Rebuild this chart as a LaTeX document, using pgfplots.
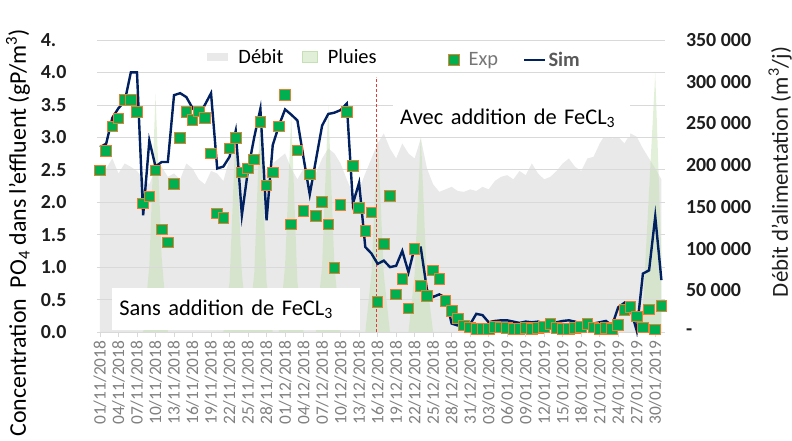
\documentclass[border=0pt]{standalone}
\usepackage{pgfplots}
\usepackage{pgfplotstable}
\pgfplotsset{compat=1.18}
\usepackage{fontspec}
\setmainfont{Carlito}
\definecolor{navy}{RGB}{0,32,96}
\definecolor{expgreen}{RGB}{0,176,80}
\definecolor{exporange}{RGB}{237,125,49}
\definecolor{debitgray}{RGB}{233,233,233}
\definecolor{pluiegreen}{RGB}{197,224,180}
\definecolor{gridgray}{RGB}{217,217,217}
\definecolor{labgray}{RGB}{128,128,128}
\definecolor{expgray}{RGB}{118,118,118}
\definecolor{simgray}{RGB}{89,89,89}
\definecolor{txt}{RGB}{30,30,30}
\definecolor{redline}{RGB}{225,60,60}

\pgfplotstableread{
d debit pluie exp sim
0 186000 0 2.49 2.85
1 196000 0 2.79 2.90
2 208000 0 3.17 3.30
3 190000 0 3.29 3.45
4 202000 0 3.58 3.55
5 198000 0 3.58 4.00
6 193000 0 3.39 4.00
7 183000 0 1.98 1.80
8 177000 80000 2.09 2.95
9 196000 285000 2.49 2.55
10 198000 90000 1.58 2.62
11 186000 0 1.38 2.62
12 190000 0 2.28 3.65
13 183000 0 2.99 3.68
14 202000 0 3.39 3.62
15 196000 0 3.27 3.45
16 183000 0 3.40 3.35
17 177000 0 3.30 3.50
18 193000 0 2.75 3.68
19 190000 0 1.83 2.52
20 181000 0 1.76 2.55
21 208000 60000 2.83 2.70
22 220000 245000 2.99 3.10
23 196000 70000 2.46 1.80
24 183000 0 2.52 2.50
25 202000 70000 2.66 3.00
26 220000 268000 3.24 3.44
27 190000 60000 2.26 1.72
28 202000 0 2.46 2.88
29 208000 0 3.17 3.18
30 214000 80000 3.65 3.43
31 196000 260000 1.66 3.35
32 183000 60000 2.80 3.26
33 196000 0 1.87 2.68
34 177000 0 2.43 2.12
35 190000 0 1.79 2.65
36 208000 80000 2.00 3.18
37 220000 272000 1.66 3.36
38 214000 80000 0.99 3.38
39 202000 0 1.96 3.42
40 183000 0 3.39 3.52
41 165000 0 2.56 1.98
42 171000 0 1.91 2.30
43 190000 0 1.56 1.31
44 208000 70000 1.84 1.21
45 226000 240000 0.46 1.05
46 238000 70000 1.36 1.10
47 220000 0 2.10 1.00
48 208000 0 0.58 1.02
49 226000 0 0.82 1.25
50 214000 0 0.36 0.92
51 208000 70000 1.28 1.30
52 232000 238000 0.71 1.30
53 196000 60000 0.56 0.65
54 177000 0 0.95 0.54
55 168000 0 0.82 0.58
56 171000 0 0.48 0.53
57 174000 0 0.32 0.13
58 169000 0 0.21 0.10
59 168000 0 0.10 0.10
60 171000 0 0.07 0.12
61 169000 0 0.05 0.28
62 174000 0 0.05 0.26
63 171000 0 0.05 0.15
64 181000 0 0.08 0.17
65 186000 0 0.07 0.18
66 188000 0 0.06 0.18
67 183000 0 0.05 0.16
68 193000 0 0.05 0.14
69 188000 0 0.06 0.16
70 202000 0 0.05 0.15
71 190000 0 0.06 0.16
72 183000 0 0.08 0.13
73 186000 0 0.12 0.12
74 193000 0 0.06 0.15
75 202000 0 0.05 0.17
76 208000 0 0.05 0.18
77 198000 0 0.06 0.16
78 193000 0 0.08 0.12
79 208000 0 0.12 0.14
80 210000 0 0.07 0.13
81 226000 0 0.05 0.15
82 238000 0 0.06 0.17
83 232000 0 0.05 0.10
84 234000 0 0.11 0.38
85 226000 0 0.34 0.45
86 238000 0 0.39 0.35
87 234000 0 0.24 0.02
88 220000 30000 0.07 0.90
89 208000 170000 0.35 0.95
90 196000 310000 0.04 1.78
91 183000 90000 0.40 0.80
}\datatable

\pgfplotsset{
  common/.style={
    at={(96.9bp,109bp)}, anchor=south west,
    width=567.6bp, height=292bp, scale only axis,
    xmin=-0.5, xmax=91.5,
  },
  simlegend/.style={legend image code/.code={\draw[##1] (0bp,0bp) -- (21bp,0bp);}},
  explegend/.style={legend image code/.code={\draw[##1] plot coordinates {(5.3bp,0bp)}; \path (0bp,0bp) (18bp,0bp);}},
}

\begin{document}
\begin{tikzpicture}
\path[use as bounding box] (0,0) rectangle (792bp,441bp);

% ---- right axis: Debit and Pluies
\begin{axis}[
  common,
  ymin=0, ymax=350000,
  axis x line=none, xtick=\empty,
  axis y line*=right,
  y axis line style={draw=none},
  ytick={0,50000,100000,150000,200000,250000,300000,350000},
  yticklabels={-,50 000,100 000,150 000,200 000,250 000,300 000,350 000},
  scaled y ticks=false,
  major tick length=0pt, ytick style={draw=none},
  yticklabel style={anchor=west, font=\fontsize{20}{24}\selectfont\bfseries, text=txt, xshift=18bp},
  ylabel={Débit d’alimentation (m\textsuperscript{3}/j)},
  every axis y label/.style={at={(axis description cs:1.2035,0.548)}, rotate=90, anchor=center, font=\fontsize{23}{27}\selectfont, text=txt},
]
\addplot[fill=debitgray, draw=none] table[x=d, y=debit] {\datatable} \closedcycle;
\addplot[fill=pluiegreen, fill opacity=0.5, draw=none] table[x=d, y=pluie] {\datatable} \closedcycle;
\end{axis}

% ---- left axis: concentration
\begin{axis}[
  common,
  ymin=0, ymax=4.5,
  axis x line*=bottom, axis y line*=left,
  y axis line style={draw=none},
  x axis line style={draw=gridgray, line width=0.75bp},
  xtick={0,3,...,90},
  xticklabels={01/11/2018,04/11/2018,07/11/2018,10/11/2018,13/11/2018,16/11/2018,19/11/2018,22/11/2018,25/11/2018,28/11/2018,01/12/2018,04/12/2018,07/12/2018,10/12/2018,13/12/2018,16/12/2018,19/12/2018,22/12/2018,25/12/2018,28/12/2018,31/12/2018,03/01/2019,06/01/2019,09/01/2019,12/01/2019,15/01/2019,18/01/2019,21/01/2019,24/01/2019,27/01/2019,30/01/2019},
  x tick label style={rotate=90, anchor=east, font=\fontsize{17.5}{19}\selectfont, text=labgray},
  xtick style={draw=gridgray, line width=0.75bp},
  tick align=outside,
  xtick pos=bottom,
  major tick length=5bp,
  ytick={0,0.5,1,1.5,2,2.5,3,3.5,4,4.5},
  yticklabels={0.0,0.5,1.0,1.5,2.0,2.5,3.0,3.5,4.0,4.\phantom{5}},
  ytick style={draw=none},
  yticklabel style={font=\fontsize{20}{24}\selectfont\bfseries, text=txt, xshift=-22bp},
  ymajorgrids, grid style={gridgray, line width=0.75bp},
  ylabel={Concentration\ \ PO\textsubscript{4} dans l’effluent (gP/m\textsuperscript{3})},
  every axis y label/.style={at={(axis description cs:-0.139,0.34)}, rotate=90, anchor=center, font=\fontsize{24}{28}\selectfont, text=black},
  legend columns=2,
  reverse legend,
  legend style={at={(axis description cs:0.6186,0.9315)}, anchor=west, draw=none, fill=none,
    inner xsep=0bp,
    font=\fontsize{20.5}{24}\selectfont,
    /tikz/every even column/.append style={column sep=23bp}},
  clip=false,
]
\node[fill=white, anchor=west, text width=233bp, align=left, inner xsep=7.5bp, minimum height=42bp,
  font=\fontsize{22.5}{26}\selectfont] at (axis cs:1.9,0.354) {Sans addition de FeCL\textsubscript{3}};
\node[fill=white, anchor=west, text width=223bp, align=left, inner xsep=7bp, minimum height=36bp,
  font=\fontsize{22.5}{26}\selectfont] at (axis cs:47.5,3.29) {Avec addition de FeCL\textsubscript{3}};
\addplot[draw=redline, dash pattern=on 3bp off 2bp, line width=1bp, forget plot] coordinates {(44.8,0) (44.8,3.93)};
\addplot[draw=navy, line width=2.4bp, mark=none, simlegend] table[x=d, y=sim] {\datatable};
\addlegendentry{\textcolor{simgray}{\bfseries Sim}}
\addplot[only marks, mark=square*, mark size=5.3bp, mark options={fill=expgreen, draw=exporange, line width=0.9bp}, explegend] table[x=d, y=exp] {\datatable};
\addlegendentry{\textcolor{expgray}{Exp}}
\end{axis}

% ---- legend for Debit / Pluies
\begin{axis}[
  common, ymin=0, ymax=1, hide axis,
  legend columns=2,
  legend style={at={(axis description cs:0,0.942)}, anchor=west, draw=none, fill=white,
    inner xsep=0bp, inner ysep=1bp,
    font=\fontsize{20.5}{24}\selectfont,
    /tikz/every even column/.append style={column sep=17bp}},
]
\addlegendimage{legend image code/.code={\fill[debitgray] (110bp,-3.3bp) rectangle (130bp,3.3bp); \path (0bp,0bp) (139bp,0bp);}}
\addlegendentry{Débit}
\addlegendimage{legend image code/.code={\fill[pluiegreen, fill opacity=0.5] (0bp,-5.3bp) rectangle (15bp,5.3bp); \path (0bp,0bp) (23bp,0bp);}}
\addlegendentry{Pluies\hspace*{36bp}}
\end{axis}
\end{tikzpicture}
\end{document}
